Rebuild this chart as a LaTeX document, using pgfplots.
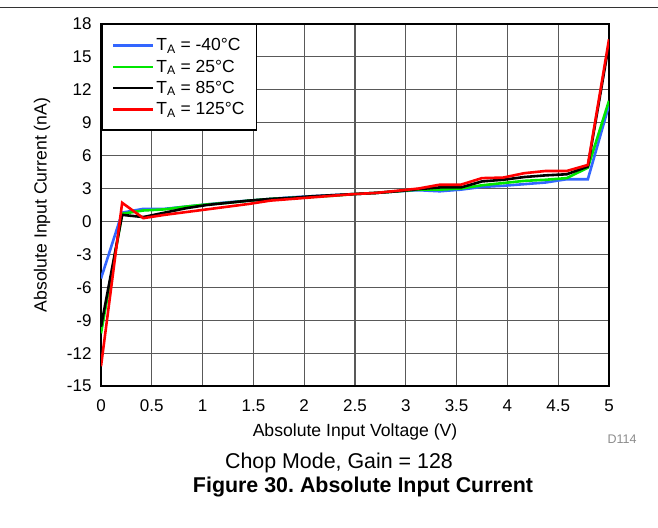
\documentclass[border=0pt]{standalone}
\usepackage{fontspec}
\setmainfont{Liberation Sans}
\usepackage{pgfplots}
\usepackage{pgfplotstable}
\pgfplotsset{compat=1.18}
\frenchspacing
\definecolor{cblue}{RGB}{51,102,255}
\definecolor{cgreen}{RGB}{0,230,0}
\definecolor{cred}{RGB}{255,0,0}
\pgfplotstableread{
x b g k r
0 -5.2 -10.2 -9.6 -13.2
0.2083 0.8 0.7 0.6 1.7
0.4167 1.15 1.0 0.4 0.3
0.625 1.15 1.1 0.8 0.6
0.8333 1.35 1.35 1.2 0.85
1.0417 1.55 1.55 1.5 1.1
1.25 1.75 1.7 1.7 1.35
1.4583 1.9 1.9 1.9 1.6
1.6667 2.05 2.05 2.05 1.9
1.875 2.2 2.15 2.15 2.05
2.0833 2.3 2.25 2.3 2.2
2.2917 2.4 2.35 2.4 2.35
2.5 2.5 2.5 2.5 2.5
2.7083 2.6 2.6 2.6 2.6
2.9167 2.75 2.75 2.75 2.8
3.125 2.85 2.9 2.95 3.0
3.3333 2.75 2.9 3.1 3.35
3.5417 2.9 3.0 3.1 3.35
3.75 3.15 3.3 3.65 3.95
3.9583 3.25 3.5 3.8 4.0
4.1667 3.4 3.7 4.05 4.4
4.375 3.55 3.8 4.2 4.6
4.5833 3.85 3.95 4.3 4.6
4.7917 3.85 4.9 5.0 5.15
5 10.6 11.0 16.2 16.6
}\datatable
\begin{document}
\begin{tikzpicture}
\useasboundingbox (0,0) rectangle (658pt,527pt);
\draw[black!80, line width=1pt] (0,519pt) -- (658pt,519pt);
\begin{axis}[
  at={(101pt,141pt)}, anchor=south west,
  scale only axis, width=508pt, height=362pt,
  xmin=0, xmax=5, ymin=-15, ymax=18,
  xtick={0,0.5,1,1.5,2,2.5,3,3.5,4,4.5,5},
  ytick={-15,-12,-9,-6,-3,0,3,6,9,12,15,18},
  /pgf/number format/assume math mode=true,
  grid=major,
  major grid style={black!65, line width=1.1pt},
  axis line style={line width=2.5pt},
  major tick length=0pt,
  ticklabel style={font=\fontsize{17}{20}\selectfont},
  xticklabel style={yshift=-10pt},
  yticklabel style={xshift=-6pt},
  xlabel={Absolute Input Voltage (V)},
  ylabel={Absolute Input Current (nA)},
  label style={font=\fontsize{17.6}{20}\selectfont},
  xlabel style={at={(axis description cs:0.5,-0.126)}, anchor=center},
  ylabel style={at={(axis description cs:-0.116,0.5)}, anchor=center},
  legend style={at={(0,1)}, anchor=north west, draw=black, line width=1.5pt,
    font=\fontsize{17.5}{20}\selectfont, inner xsep=10pt, inner ysep=12pt, row sep=3.5pt},
  legend cell align=left,
  legend image code/.code={\path (0pt,0pt) -- (40pt,0pt);\draw[#1] (0pt,0pt) -- (35pt,0pt);},
]
\addplot[cblue, line width=2.6pt] table[x=x,y=b] {\datatable};
\addlegendentry{T\textsubscript{A} = -40°C}
\addplot[cgreen, line width=2.6pt] table[x=x,y=g] {\datatable};
\addlegendentry{T\textsubscript{A} = 25°C}
\addplot[black, line width=2.6pt] table[x=x,y=k] {\datatable};
\addlegendentry{T\textsubscript{A} = 85°C}
\addplot[cred, line width=2.6pt] table[x=x,y=r] {\datatable};
\addlegendentry{T\textsubscript{A} = 125°C}
\end{axis}
\node[font=\fontsize{12.5}{14}\selectfont, text=black!45] at (622pt,88pt) {D114};
\node[font=\fontsize{21.4}{24}\selectfont] at (339pt,64pt) {Chop Mode, Gain = 128};
\node[font=\bfseries\fontsize{21.4}{24}\selectfont] at (363pt,40pt) {Figure 30. Absolute Input Current};
\end{tikzpicture}
\end{document}
